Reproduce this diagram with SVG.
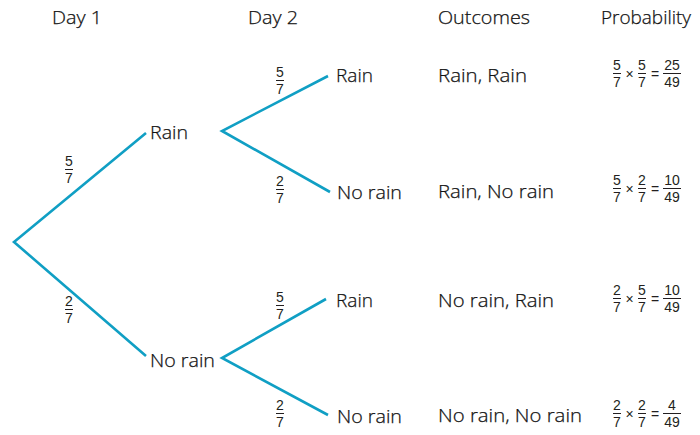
<svg xmlns="http://www.w3.org/2000/svg" width="700" height="435" viewBox="0 0 700 435">
<style>
text{font-family:"Open Sans","Noto Sans","DejaVu Sans",sans-serif;fill:#231f20}
.t{font-size:19px;font-weight:300;fill:#111;stroke:#111;stroke-width:0.25}
.f{font-family:"Liberation Sans",Arial,sans-serif;font-size:14px;text-anchor:middle}
.op{font-family:"Liberation Sans",Arial,sans-serif;font-size:14px;text-anchor:middle}
.b{stroke:#231f20;stroke-width:1}
.br{stroke:#109fc4;stroke-width:2.6;fill:none}
</style>
<rect width="700" height="435" fill="#fff"/>
<g id="headers">
<text class="t" x="52" y="24" textLength="50" lengthAdjust="spacingAndGlyphs">Day 1</text>
<text class="t" x="248" y="24" textLength="50" lengthAdjust="spacingAndGlyphs">Day 2</text>
<text class="t" x="438" y="24" textLength="92" lengthAdjust="spacingAndGlyphs">Outcomes</text>
<text class="t" x="601" y="24" textLength="90" lengthAdjust="spacingAndGlyphs">Probability</text>
</g>
<g id="connectors">
<polyline class="br" points="146,133 14,242 146,356"/>
<polyline class="br" points="328,76 222,131 330,192"/>
<polyline class="br" points="326,299 222,358 328,415"/>
</g>
<g id="branch-labels">
<text class="f" x="69" y="166">5</text><line class="b" x1="65" y1="169.5" x2="73" y2="169.5"/><text class="f" x="69" y="183">7</text>
<text class="f" x="69" y="306">2</text><line class="b" x1="65" y1="309.5" x2="73" y2="309.5"/><text class="f" x="69" y="323">7</text>
<text class="f" x="280" y="77">5</text><line class="b" x1="276" y1="80.5" x2="284" y2="80.5"/><text class="f" x="280" y="94">7</text>
<text class="f" x="280" y="186">2</text><line class="b" x1="276" y1="189.5" x2="284" y2="189.5"/><text class="f" x="280" y="203">7</text>
<text class="f" x="280" y="302">5</text><line class="b" x1="276" y1="305.5" x2="284" y2="305.5"/><text class="f" x="280" y="319">7</text>
<text class="f" x="280" y="410">2</text><line class="b" x1="276" y1="413.5" x2="284" y2="413.5"/><text class="f" x="280" y="427">7</text>
</g>
<g id="node-d1-rain"><text class="t" x="150" y="139" textLength="38" lengthAdjust="spacingAndGlyphs">Rain</text></g>
<g id="node-d1-norain"><text class="t" x="150" y="367" textLength="65" lengthAdjust="spacingAndGlyphs">No rain</text></g>
<g id="node-d2-rr"><text class="t" x="336" y="82" textLength="37" lengthAdjust="spacingAndGlyphs">Rain</text></g>
<g id="node-d2-rn"><text class="t" x="337" y="199" textLength="65" lengthAdjust="spacingAndGlyphs">No rain</text></g>
<g id="node-d2-nr"><text class="t" x="336" y="307" textLength="37" lengthAdjust="spacingAndGlyphs">Rain</text></g>
<g id="node-d2-nn"><text class="t" x="337" y="423" textLength="65" lengthAdjust="spacingAndGlyphs">No rain</text></g>
<g id="outcomes">
<text class="t" x="438" y="82" textLength="89" lengthAdjust="spacingAndGlyphs">Rain, Rain</text>
<text class="t" x="438" y="198" textLength="116" lengthAdjust="spacingAndGlyphs">Rain, No rain</text>
<text class="t" x="438" y="307" textLength="116" lengthAdjust="spacingAndGlyphs">No rain, Rain</text>
<text class="t" x="438" y="422" textLength="144" lengthAdjust="spacingAndGlyphs">No rain, No rain</text>
</g>
<g id="probabilities">
<g>
<text class="f" x="617" y="70">5</text><line class="b" x1="613" y1="73.5" x2="621" y2="73.5"/><text class="f" x="617" y="87">7</text>
<text class="op" x="629.5" y="79">×</text>
<text class="f" x="642" y="70">5</text><line class="b" x1="638" y1="73.5" x2="646" y2="73.5"/><text class="f" x="642" y="87">7</text>
<text class="op" x="655" y="79">=</text>
<text class="f" x="672" y="70">25</text><line class="b" x1="663" y1="73.5" x2="681" y2="73.5"/><text class="f" x="672" y="87">49</text>
</g>
<g transform="translate(0,115)">
<text class="f" x="617" y="70">5</text><line class="b" x1="613" y1="73.5" x2="621" y2="73.5"/><text class="f" x="617" y="87">7</text>
<text class="op" x="629.5" y="79">×</text>
<text class="f" x="642" y="70">2</text><line class="b" x1="638" y1="73.5" x2="646" y2="73.5"/><text class="f" x="642" y="87">7</text>
<text class="op" x="655" y="79">=</text>
<text class="f" x="672" y="70">10</text><line class="b" x1="663" y1="73.5" x2="681" y2="73.5"/><text class="f" x="672" y="87">49</text>
</g>
<g transform="translate(0,225)">
<text class="f" x="617" y="70">2</text><line class="b" x1="613" y1="73.5" x2="621" y2="73.5"/><text class="f" x="617" y="87">7</text>
<text class="op" x="629.5" y="79">×</text>
<text class="f" x="642" y="70">5</text><line class="b" x1="638" y1="73.5" x2="646" y2="73.5"/><text class="f" x="642" y="87">7</text>
<text class="op" x="655" y="79">=</text>
<text class="f" x="672" y="70">10</text><line class="b" x1="663" y1="73.5" x2="681" y2="73.5"/><text class="f" x="672" y="87">49</text>
</g>
<g transform="translate(0,340)">
<text class="f" x="617" y="70">2</text><line class="b" x1="613" y1="73.5" x2="621" y2="73.5"/><text class="f" x="617" y="87">7</text>
<text class="op" x="629.5" y="79">×</text>
<text class="f" x="642" y="70">2</text><line class="b" x1="638" y1="73.5" x2="646" y2="73.5"/><text class="f" x="642" y="87">7</text>
<text class="op" x="655" y="79">=</text>
<text class="f" x="672" y="70">4</text><line class="b" x1="663" y1="73.5" x2="681" y2="73.5"/><text class="f" x="672" y="87">49</text>
</g>
</g>
</svg>
